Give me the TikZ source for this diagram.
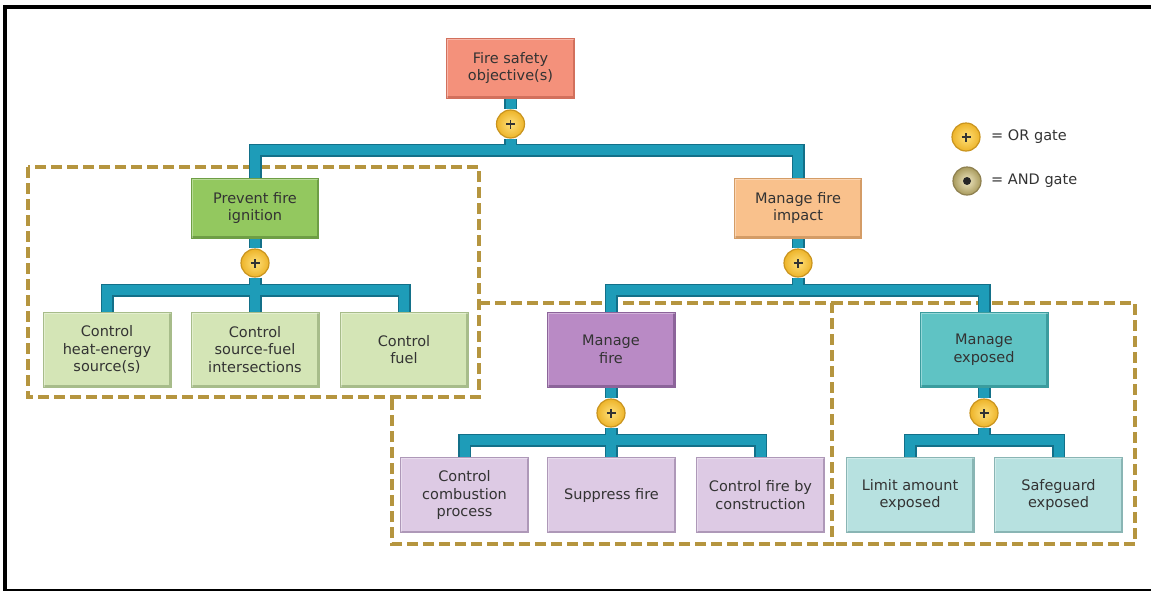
\documentclass[tikz,border=0pt]{standalone}
\usepackage{fontspec}
\setmainfont{DejaVu Sans}
\pgfdeclarelayer{bg}
\pgfsetlayers{bg,main}
\definecolor{txt}{HTML}{333333}
\definecolor{busc}{HTML}{1E9CB8}
\definecolor{busd}{HTML}{137089}
\definecolor{dashc}{HTML}{B5953F}
\definecolor{salm}{HTML}{F4917B}\definecolor{salmd}{HTML}{D2705C}
\definecolor{grn}{HTML}{93C85F}\definecolor{grnd}{HTML}{6E9E45}
\definecolor{lgrn}{HTML}{D4E5B6}\definecolor{lgrnd}{HTML}{A7BC8A}
\definecolor{orn}{HTML}{F9C18C}\definecolor{ornd}{HTML}{D49C66}
\definecolor{pur}{HTML}{B98AC5}\definecolor{purd}{HTML}{8C649A}
\definecolor{lpur}{HTML}{DDCAE4}\definecolor{lpurd}{HTML}{AE98B8}
\definecolor{tea}{HTML}{5FC3C4}\definecolor{tead}{HTML}{3B9C9E}
\definecolor{ltea}{HTML}{B7E1E0}\definecolor{ltead}{HTML}{89B5B4}
\definecolor{orin}{HTML}{FFE07A}\definecolor{orout}{HTML}{EDB42A}\definecolor{ordr}{HTML}{C9941E}
\definecolor{andin}{HTML}{F0E8C4}\definecolor{andout}{HTML}{A89A5C}\definecolor{anddr}{HTML}{8E8050}
\tikzset{
  box/.style 2 args={rectangle, fill=#1, draw=#2, line width=1pt,
    minimum width=128pt, minimum height=75pt, align=center, inner sep=2pt,
    font=\fontsize{14.5}{17.5}\selectfont, text=txt,
    path picture={
      \draw[#2, line width=4pt]
        (path picture bounding box.north east) -- (path picture bounding box.south east)
        -- (path picture bounding box.south west);
      \draw[white, opacity=0.35, line width=3pt]
        (path picture bounding box.south west) -- (path picture bounding box.north west)
        -- (path picture bounding box.north east);
    }},
  orgate/.style={circle, minimum size=28pt, inner sep=0pt, draw=ordr, line width=1.2pt,
    inner color=orin, outer color=orout,
    path picture={
      \draw[txt, line width=1.2pt]
        ([xshift=-4.5pt]path picture bounding box.center) -- ([xshift=4.5pt]path picture bounding box.center)
        ([yshift=-4.5pt]path picture bounding box.center) -- ([yshift=4.5pt]path picture bounding box.center);
    }},
  andgate/.style={circle, minimum size=28pt, inner sep=0pt, draw=anddr, line width=1.2pt,
    inner color=andin, outer color=andout,
    path picture={
      \fill[black!85] (path picture bounding box.center) circle (4pt);
    }},
  legtxt/.style={inner sep=0pt, anchor=west, font=\fontsize{14.5}{17.5}\selectfont, text=txt},
  busdark/.style={busd, line width=13pt},
  buslight/.style={busc, line width=10pt},
  dashbox/.style={dashc, line width=4pt, dash pattern=on 11pt off 5pt}
}
\newcommand\busnet[1]{%
  \draw[#1] (top.south) -- (g0) -- (b0);
  \draw[#1] (pfi.north) |- (b0) -| (mfi.north);
  \draw[#1] (pfi.south) -- (g1) -- (b1);
  \draw[#1] (c1.north) |- (b1) -| (c3.north);
  \draw[#1] (b1) -- (b1 |- c2.north);
  \draw[#1] (mfi.south) -- (g2) -- (b2);
  \draw[#1] (mf.north) |- (b2) -| (me.north);
  \draw[#1] (mf.south) -- (g3) -- (b3);
  \draw[#1] (d1.north) |- (b3) -| (d3.north);
  \draw[#1] (b3) -- (b3 |- d2.north);
  \draw[#1] (me.south) -- (g4) -- (b4);
  \draw[#1] (e1.north) |- (b4) -| (e2.north);
}
\begin{document}
\begin{tikzpicture}[x=1pt,y=-1pt]
\useasboundingbox (0,0) rectangle (1151,592);
\draw[line width=4pt] (3,7) -- (1151,7);
\draw[line width=4pt] (5,5) -- (5,590);
\draw[line width=2pt] (3,589.5) -- (1151,589.5);

% nodes
\node[box={salm}{salmd}, minimum height=60pt] (top) at (510.5,68) {Fire safety\\objective(s)};
\node[box={grn}{grnd}, minimum width=127pt, minimum height=60pt] (pfi) at (255,208) {Prevent fire\\ignition};
\node[box={orn}{ornd}, minimum width=127pt, minimum height=60pt] (mfi) at (798,208) {Manage fire\\impact};
\node[box={lgrn}{lgrnd}] (c1) at (107,349.5) {Control\\heat-energy\\source(s)};
\node[box={lgrn}{lgrnd}] (c2) at (255,349.5) {Control\\source-fuel\\intersections};
\node[box={lgrn}{lgrnd}] (c3) at (404,349.5) {Control\\fuel};
\node[box={pur}{purd}] (mf) at (611,349.5) {Manage\\fire};
\node[box={tea}{tead}] (me) at (984,349.5) {Manage\\exposed};
\node[box={lpur}{lpurd}] (d1) at (464.5,495) {Control\\combustion\\process};
\node[box={lpur}{lpurd}] (d2) at (611.5,495) {Suppress fire};
\node[box={lpur}{lpurd}] (d3) at (760.5,495) {Control fire by\\construction};
\node[box={ltea}{ltead}] (e1) at (910,495) {Limit amount\\exposed};
\node[box={ltea}{ltead}] (e2) at (1058.5,495) {Safeguard\\exposed};

% gates
\node[orgate] (g0) at (510.5,124) {};
\node[orgate] (g1) at (255,263) {};
\node[orgate] (g2) at (798,263) {};
\node[orgate] (g3) at (611,413) {};
\node[orgate] (g4) at (984,413) {};

\coordinate (b0) at (510.5,150);
\coordinate (b1) at (255,290);
\coordinate (b2) at (798,290);
\coordinate (b3) at (611,440);
\coordinate (b4) at (984,440);

% legend
\node[orgate] (lor) at (966,137) {};
\node[andgate] (land) at (967,181) {};
\node[legtxt] (lort) at (991,137) {= OR gate};
\node[legtxt] (landt) at (991,181) {= AND gate};

\begin{pgfonlayer}{bg}
  \draw[dashbox] (28,167) rectangle (479,397);
  \draw[dashbox] (479,303) -- (832,303) -- (832,544) -- (392,544) -- (392,397);
  \draw[dashbox] (832,303) -- (1135,303) -- (1135,544) -- (832,544);
  \busnet{busdark}
  \busnet{buslight}
\end{pgfonlayer}
\end{tikzpicture}
\end{document}
